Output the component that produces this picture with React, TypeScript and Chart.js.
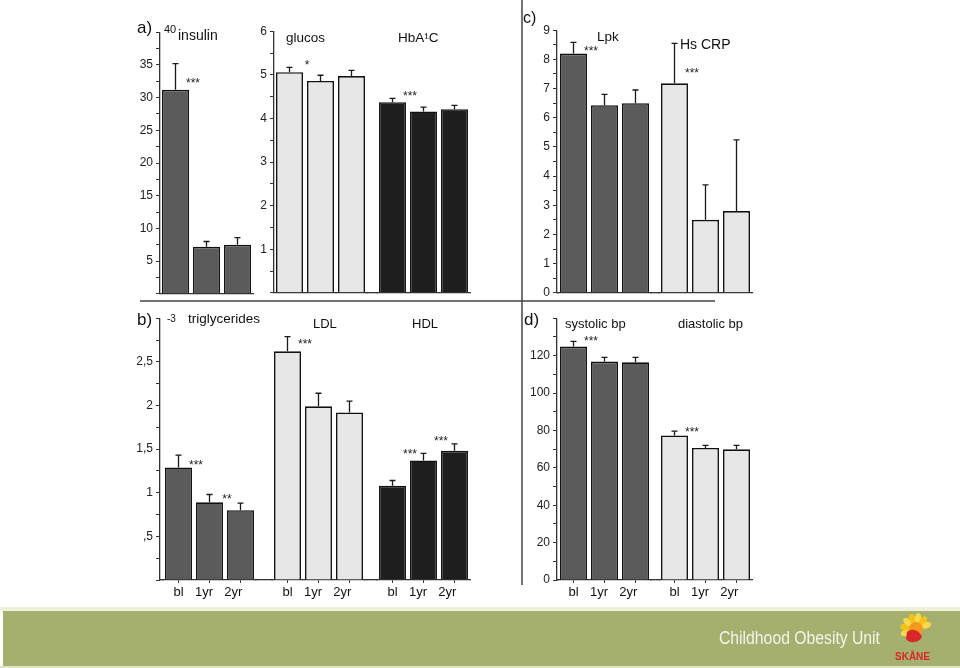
import React, { useEffect, useRef } from 'react';
import { Chart, registerables } from 'chart.js';

Chart.register(...registerables);

const FONT = '"Liberation Sans", Arial, Helvetica, sans-serif';

// ---------- data ----------
const timeLabels = ['bl', '1yr', '2yr'];
// the printed labels sit slightly left of their bars; trailing spaces reproduce that drift
const labelPad = [0, 3, 4];

const insulinMean = [31.2, 7.2, 7.5];
const insulinSD = [4.0, 0.8, 1.1];
const glucosMean = [5.06, 4.86, 4.97];
const glucosSD = [0.11, 0.13, 0.13];
const hba1cMean = [4.37, 4.16, 4.21];
const hba1cSD = [0.09, 0.1, 0.09];
const lpkMean = [8.2, 6.43, 6.5];
const lpkSD = [0.38, 0.37, 0.45];
const hscrpMean = [7.18, 2.5, 2.8];
const hscrpSD = [1.37, 1.2, 2.44];
const trigMean = [1.29, 0.89, 0.8];
const trigSD = [0.14, 0.09, 0.08];
const ldlMean = [2.62, 1.99, 1.92];
const ldlSD = [0.17, 0.15, 0.13];
const hdlMean = [1.08, 1.37, 1.48];
const hdlSD = [0.06, 0.08, 0.08];
const systolicMean = [124.8, 116.8, 116.4];
const systolicSD = [2.8, 2.3, 2.7];
const diastolicMean = [77.3, 70.6, 69.9];
const diastolicSD = [2.3, 1.4, 2.1];

type Star = { after: number; level: number; text: string };
const insulinStars: Star[] = [{ after: 0, level: 32.4, text: '***' }];
const glucosStars: Star[] = [{ after: 0, level: 5.24, text: '*' }];
const hba1cStars: Star[] = [{ after: 0, level: 4.53, text: '***' }];
const lpkStars: Star[] = [{ after: 0, level: 8.32, text: '***' }];
const hscrpStars: Star[] = [{ after: 0, level: 7.57, text: '***' }];
const trigStars: Star[] = [
  { after: 0, level: 1.33, text: '***' },
  { after: 1, level: 0.94, text: '**' },
];
const ldlStars: Star[] = [{ after: 0, level: 2.72, text: '***' }];
const hdlStars: Star[] = [
  { after: 0, level: 1.46, text: '***' },
  { after: 1, level: 1.61, text: '***' },
];
const systolicStars: Star[] = [{ after: 0, level: 128.5, text: '***' }];
const diastolicStars: Star[] = [{ after: 0, level: 79.6, text: '***' }];

const insulinTickLabels = [5, 10, 15, 20, 25, 30, 35];
const glucosTickLabels = [1, 2, 3, 4, 5, 6];
const lpkTickLabels = [0, 1, 2, 3, 4, 5, 6, 7, 8, 9];
const lipidTickLabels = [0.5, 1, 1.5, 2, 2.5];
const bpTickLabels = [0, 20, 40, 60, 80, 100, 120];

const DARK = '#5b5b5b';
const LIGHT = '#e7e7e7';
const BLACK = '#1e1e1e';

// ---------- plugin: error bars + significance stars ----------
const errorBarPlugin = {
  id: 'errbars',
  afterDatasetsDraw(chart: any) {
    const ctx = chart.ctx;
    chart.data.datasets.forEach((ds: any, i: number) => {
      const meta = chart.getDatasetMeta(i);
      const yScale = meta.vScale;
      const sd: number[] = ds.sd || [];
      ctx.save();
      ctx.strokeStyle = '#1a1a1a';
      ctx.lineWidth = 1.3;
      meta.data.forEach((bar: any, j: number) => {
        const topPx = yScale.getPixelForValue(ds.data[j] + (sd[j] || 0));
        ctx.beginPath();
        ctx.moveTo(bar.x, bar.y);
        ctx.lineTo(bar.x, topPx);
        ctx.moveTo(bar.x - 3, topPx);
        ctx.lineTo(bar.x + 3, topPx);
        ctx.stroke();
      });
      (ds.stars || []).forEach((st: Star) => {
        const a = meta.data[st.after];
        const b = meta.data[st.after + 1];
        const x = (a.x + b.x) / 2 + 2;
        const y = yScale.getPixelForValue(st.level);
        ctx.fillStyle = '#222';
        ctx.font = `12px ${FONT}`;
        ctx.textAlign = 'center';
        ctx.textBaseline = 'alphabetic';
        ctx.fillText(st.text, x, y + 5);
      });
      ctx.restore();
    });
  },
};

type GroupSpec = {
  id: string;
  weight: number;
  values?: number[];
  sd?: number[];
  color?: string;
  stars?: Star[];
};

type PanelProps = {
  area: [number, number, number, number];
  yMax: number;
  yStep: number;
  yLabels: number[];
  yFmt?: (v: number) => string;
  groups: GroupSpec[];
  xLabels: boolean;
};

function BarPanel({ area, yMax, yStep, yLabels, yFmt, groups, xLabels }: PanelProps) {
  const ref = useRef<HTMLCanvasElement | null>(null);
  const yWidth = 36;
  const padTop = 10;
  const padRight = 22;
  const xHeight = xLabels ? 28 : 10;
  const [aL, aT, aR, aB] = area;
  const left = aL - yWidth;
  const top = aT - padTop;
  const width = aR + padRight - left;
  const height = aB + xHeight - top;

  useEffect(() => {
    if (!ref.current) return;
    const fmt = yFmt || ((v: number) => String(v));
    const scales: any = {
      y: {
        type: 'linear',
        position: 'left',
        min: 0,
        max: yMax,
        afterFit: (s: any) => {
          s.width = yWidth;
        },
        ticks: {
          stepSize: yStep,
          autoSkip: false,
          color: '#222',
          padding: 3,
          font: { size: 12, family: FONT },
          callback: (value: any) => {
            const v = Number(value);
            return yLabels.some((l) => Math.abs(l - v) < 1e-6) ? fmt(v) : '';
          },
        },
        grid: {
          display: true,
          drawOnChartArea: false,
          drawTicks: true,
          tickLength: 4,
          tickColor: '#333',
          tickWidth: 1,
        },
        border: { display: true, color: '#333', width: 1.3 },
      },
    };
    const datasets: any[] = [];
    groups.forEach((g, gi) => {
      const hasBars = !!g.values;
      scales[g.id] = {
        type: 'category',
        position: 'bottom',
        stack: 'xs',
        stackWeight: g.weight,
        weight: gi,
        offset: true,
        labels: hasBars ? timeLabels : [''],
        afterFit: (s: any) => {
          s.height = xHeight;
        },
        ticks: {
          display: xLabels && hasBars,
          color: '#111',
          padding: 2,
          maxRotation: 0,
          autoSkip: false,
          font: { size: 13, family: FONT },
          callback: (_v: any, i: number) => timeLabels[i] + ' '.repeat(labelPad[i] || 0),
        },
        grid: {
          display: xLabels && hasBars,
          drawOnChartArea: false,
          drawTicks: true,
          tickLength: 3,
          offset: false,
          tickColor: '#333',
        },
        border: { display: true, color: '#333', width: 1.3 },
      };
      if (hasBars) {
        datasets.push({
          type: 'bar',
          data: g.values,
          sd: g.sd,
          stars: g.stars,
          xAxisID: g.id,
          yAxisID: 'y',
          grouped: false,
          backgroundColor: g.color,
          borderColor: '#111',
          borderWidth: 1.6,
          barPercentage: 0.87,
          categoryPercentage: 1,
        });
      }
    });
    const chart = new Chart(ref.current, {
      type: 'bar',
      data: { datasets },
      options: {
        animation: false,
        responsive: false,
        devicePixelRatio: 1,
        layout: { padding: { top: padTop, right: padRight, left: 0, bottom: 0 } },
        plugins: { legend: { display: false }, tooltip: { enabled: false } },
        scales,
      } as any,
      plugins: [errorBarPlugin as any],
    });
    return () => chart.destroy();
  }, []);

  return (
    <canvas
      ref={ref}
      width={width}
      height={height}
      style={{ position: 'absolute', left, top, width, height }}
    />
  );
}

const lipidFmt = (v: number) => String(v).replace(/^0\./, ',').replace('.', ',');

function Logo() {
  const petals = [-200, -170, -140, -110, -80, -50, -20];
  return (
    <g transform="translate(916,629)">
      {petals.map((a, i) => {
        const cx = Math.cos((a * Math.PI) / 180) * 11;
        const cy = Math.sin((a * Math.PI) / 180) * 11;
        return (
          <ellipse
            key={i}
            cx={cx}
            cy={cy}
            rx={5}
            ry={3.2}
            transform={`rotate(${a} ${cx} ${cy})`}
            fill={i % 2 ? '#f6c21a' : '#f9d84a'}
          />
        );
      })}
      <circle cx={0} cy={0} r={7} fill="#f29a1f" />
      <path d="M-9,3 C-4,-2 4,2 6,8 C3,14 -6,15 -10,10 Z" fill="#d8262b" />
      <text x={-21} y={31} fontSize={10} fontWeight="bold" fill="#d8262b" fontFamily={FONT}>
        SKÅNE
      </text>
    </g>
  );
}

export default function App() {
  return (
    <div
      style={{
        position: 'absolute',
        left: 0,
        top: 0,
        width: 960,
        height: 668,
        background: '#ffffff',
        overflow: 'hidden',
      }}
    >
      <BarPanel
        area={[160, 32, 253, 294]}
        yMax={40}
        yStep={2.5}
        yLabels={insulinTickLabels}
        groups={[{ id: 'xIns', weight: 93, values: insulinMean, sd: insulinSD, color: DARK, stars: insulinStars }]}
        xLabels={false}
      />
      <BarPanel
        area={[274, 31, 470, 293]}
        yMax={6}
        yStep={0.5}
        yLabels={glucosTickLabels}
        groups={[
          { id: 'xGlu', weight: 93, values: glucosMean, sd: glucosSD, color: LIGHT, stars: glucosStars },
          { id: 'xGap1', weight: 10 },
          { id: 'xHba', weight: 93, values: hba1cMean, sd: hba1cSD, color: BLACK, stars: hba1cStars },
        ]}
        xLabels={false}
      />
      <BarPanel
        area={[557, 30, 752, 293]}
        yMax={9}
        yStep={0.5}
        yLabels={lpkTickLabels}
        groups={[
          { id: 'xGap0', weight: 1 },
          { id: 'xLpk', weight: 93, values: lpkMean, sd: lpkSD, color: DARK, stars: lpkStars },
          { id: 'xGap1', weight: 8 },
          { id: 'xCrp', weight: 93, values: hscrpMean, sd: hscrpSD, color: LIGHT, stars: hscrpStars },
        ]}
        xLabels={false}
      />
      <BarPanel
        area={[160, 318, 470, 580]}
        yMax={3}
        yStep={0.25}
        yLabels={lipidTickLabels}
        yFmt={lipidFmt}
        groups={[
          { id: 'xGap0', weight: 3 },
          { id: 'xTri', weight: 93, values: trigMean, sd: trigSD, color: DARK, stars: trigStars },
          { id: 'xGap1', weight: 16 },
          { id: 'xLdl', weight: 93, values: ldlMean, sd: ldlSD, color: LIGHT, stars: ldlStars },
          { id: 'xGap2', weight: 12 },
          { id: 'xHdl', weight: 93, values: hdlMean, sd: hdlSD, color: BLACK, stars: hdlStars },
        ]}
        xLabels={true}
      />
      <BarPanel
        area={[557, 318, 752, 580]}
        yMax={140}
        yStep={10}
        yLabels={bpTickLabels}
        groups={[
          { id: 'xGap0', weight: 1 },
          { id: 'xSys', weight: 93, values: systolicMean, sd: systolicSD, color: DARK, stars: systolicStars },
          { id: 'xGap1', weight: 8 },
          { id: 'xDia', weight: 93, values: diastolicMean, sd: diastolicSD, color: LIGHT, stars: diastolicStars },
        ]}
        xLabels={true}
      />
      <svg
        width={960}
        height={668}
        style={{ position: 'absolute', left: 0, top: 0, pointerEvents: 'none' }}
        fontFamily={FONT}
        fill="#111"
      >
        <line x1={140} y1={301} x2={715} y2={301} stroke="#444" strokeWidth={1.5} />
        <line x1={522} y1={0} x2={522} y2={585} stroke="#444" strokeWidth={1.5} />

        <text x={137} y={33} fontSize={17}>a)</text>
        <text x={164} y={33} fontSize={11}>40</text>
        <text x={178} y={40} fontSize={14}>insulin</text>
        <text x={286} y={42} fontSize={13.5}>glucos</text>
        <text x={398} y={42} fontSize={13.5}>HbA¹C</text>

        <text x={523} y={23} fontSize={16}>c)</text>
        <text x={597} y={41} fontSize={13.5}>Lpk</text>
        <text x={680} y={49} fontSize={14}>Hs CRP</text>

        <text x={137} y={325} fontSize={17}>b)</text>
        <text x={167} y={322} fontSize={10}>-3</text>
        <text x={188} y={323} fontSize={13.5}>triglycerides</text>
        <text x={313} y={328} fontSize={13}>LDL</text>
        <text x={412} y={328} fontSize={13}>HDL</text>

        <text x={524} y={325} fontSize={17}>d)</text>
        <text x={565} y={328} fontSize={13}>systolic bp</text>
        <text x={678} y={328} fontSize={13}>diastolic bp</text>

        <rect x={0} y={607} width={960} height={4} fill="#eef0da" />
        <rect x={3} y={611} width={957} height={55} fill="#a6b06e" />
        <rect x={0} y={666} width={960} height={2} fill="#dfe3c6" />
        <text
          x={719}
          y={644}
          fontSize={18}
          fill="#f3f3ec"
          fontFamily={'"Liberation Sans Narrow", "Liberation Sans", Arial, sans-serif'}
          textLength={161}
          lengthAdjust="spacingAndGlyphs"
        >
          Childhood Obesity Unit
        </text>
        <Logo />
      </svg>
    </div>
  );
}
